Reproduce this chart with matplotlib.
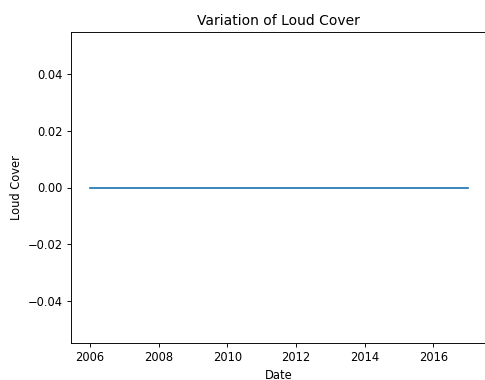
import matplotlib
matplotlib.use('Agg')
import matplotlib.pyplot as plt
import pandas as pd

# 年份与云量数据
dates = pd.to_datetime(['2006-01-01', '2007-01-01', '2008-01-01', '2009-01-01',
                        '2010-01-01', '2011-01-01', '2012-01-01', '2013-01-01',
                        '2014-01-01', '2015-01-01', '2016-01-01', '2016-12-31'])
loud_cover = [0.0, 0.0, 0.0, 0.0, 0.0, 0.0, 0.0, 0.0, 0.0, 0.0, 0.0, 0.0]

dpi = 83
fig, ax = plt.subplots(figsize=(485 / dpi, 380 / dpi), dpi=dpi)
ax.plot(dates, loud_cover)
ax.set_title('Variation of Loud Cover')
ax.set_xlabel('Date')
ax.set_ylabel('Loud Cover')
fig.subplots_adjust(left=71/485, right=1.003, top=1-32/380, bottom=1-343/380)
fig.savefig('out.png', dpi=dpi)
